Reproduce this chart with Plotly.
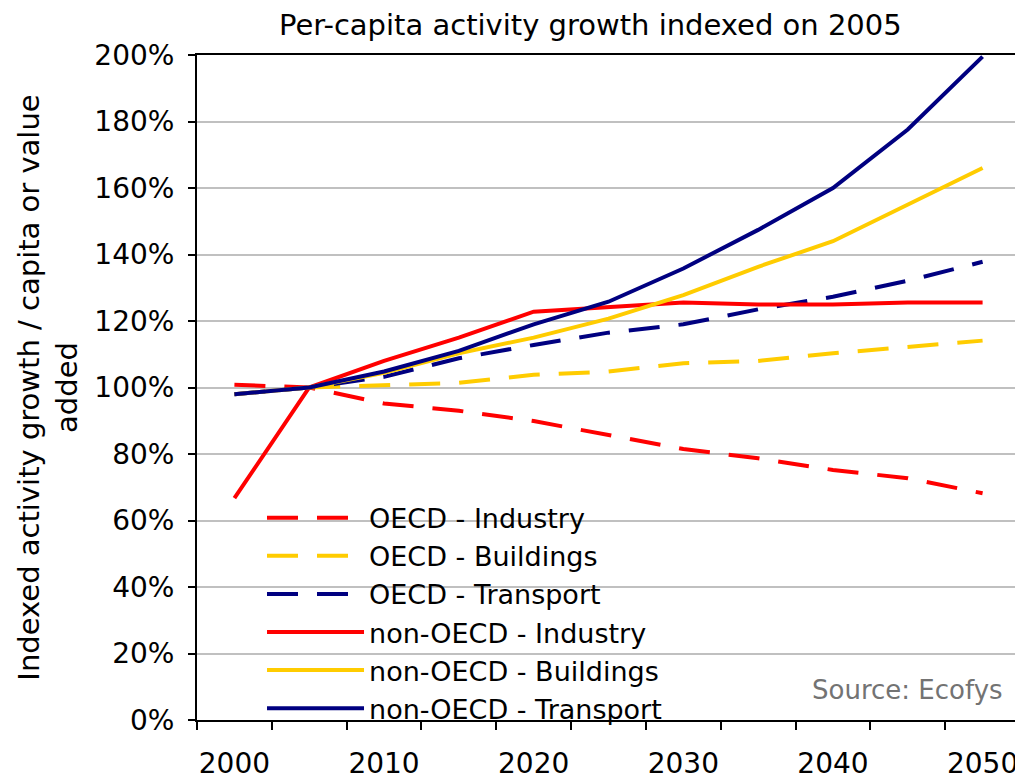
import plotly.graph_objects as go

years = ["2000", "2005", "2010", "2015", "2020", "2025", "2030", "2035", "2040", "2045", "2050"]
year_labels = ["2000", "", "2010", "", "2020", "", "2030", "", "2040", "", "2050"]

oecd_industry = [100.8, 100.0, 95.2, 93.0, 89.9, 85.8, 81.5, 78.7, 75.2, 72.7, 68.2]
oecd_buildings = [None, 100.0, 100.8, 101.4, 103.8, 104.8, 107.3, 108.0, 110.3, 112.3, 114.1]
oecd_transport = [98.0, 100.0, 103.2, 108.8, 112.8, 116.5, 119.0, 123.5, 127.3, 132.1, 137.8]
nonoecd_industry = [66.7, 100.0, 108.0, 115.0, 122.8, 124.3, 125.6, 125.0, 125.0, 125.6, 125.6]
nonoecd_buildings = [98.0, 100.0, 104.4, 110.3, 115.0, 120.7, 127.8, 136.3, 144.0, 155.0, 166.0]
nonoecd_transport = [98.0, 100.0, 104.8, 111.0, 119.0, 125.8, 135.8, 147.4, 160.0, 177.6, 199.5]

y_ticks = [0, 20, 40, 60, 80, 100, 120, 140, 160, 180, 200]
y_tick_labels = [f"{v}%" for v in y_ticks]

RED = "#FF0000"
YEL = "#FFCC00"
NAVY = "#000080"
DASH = "31px,19px"

series = [
    ("OECD - Industry", oecd_industry, RED, DASH),
    ("OECD - Buildings", oecd_buildings, YEL, DASH),
    ("OECD - Transport", oecd_transport, NAVY, DASH),
    ("non-OECD - Industry", nonoecd_industry, RED, "solid"),
    ("non-OECD - Buildings", nonoecd_buildings, YEL, "solid"),
    ("non-OECD - Transport", nonoecd_transport, NAVY, "solid"),
]

FONT = "DejaVu Sans"

fig = go.Figure()
for name, vals, col, dash in series:
    fig.add_trace(go.Scatter(
        x=years, y=vals, name=name, mode="lines",
        line=dict(color=col, width=4, dash=dash),
        connectgaps=False,
    ))

fig.update_layout(
    width=1023, height=779,
    margin=dict(l=189, r=11, t=47, b=67),
    paper_bgcolor="white", plot_bgcolor="white",
    font=dict(family=FONT, color="black"),
    title=dict(
        text="Per-capita activity growth indexed on 2005",
        font=dict(family=FONT, size=29, color="black"),
        xref="paper", x=0.478, xanchor="center",
        yref="container", y=0.979, yanchor="middle",
    ),
    showlegend=True,
    legend=dict(
        x=0.079, xanchor="left", y=-0.019, yanchor="bottom",
        bgcolor="rgba(0,0,0,0)", borderwidth=0,
        font=dict(family=FONT, size=27, color="black"),
        itemwidth=97, tracegroupgap=0,
    ),
    shapes=[dict(
        type="rect", xref="paper", yref="paper",
        x0=0.018, x1=0.671, y0=0.003, y1=0.323,
        fillcolor="white", line=dict(width=0), layer="between",
    )],
    annotations=[dict(
        text="Source: Ecofys", xref="paper", yref="paper",
        x=0.982, y=0.045, xanchor="right", yanchor="middle",
        showarrow=False, font=dict(family=FONT, size=26, color="#737373"),
    )],
)

fig.update_xaxes(
    type="category",
    tickmode="array", tickvals=years, ticktext=year_labels,
    tickson="boundaries", ticks="outside", ticklen=8, tickwidth=1.5, tickcolor="black",
    ticklabelstandoff=17,
    showline=True, linecolor="black", linewidth=2, mirror=True,
    showgrid=False, zeroline=False, tickangle=0,
    tickfont=dict(family=FONT, size=28, color="black"),
    range=[-0.5, 10.5], automargin=False,
)
fig.update_yaxes(
    range=[0, 200],
    tickmode="array", tickvals=y_ticks, ticktext=y_tick_labels,
    ticks="outside", ticklen=7, tickwidth=1.5, tickcolor="black",
    ticklabelstandoff=8,
    showline=True, linecolor="black", linewidth=2, mirror=True,
    showgrid=True, gridcolor="#C0C0C0", gridwidth=1.5,
    zeroline=False, automargin=False,
    tickfont=dict(family=FONT, size=28, color="black"),
    title=dict(text="Indexed activity growth / capita or value<br>added",
               font=dict(family=FONT, size=29, color="black"), standoff=8),
)

fig.write_html("out.html")
